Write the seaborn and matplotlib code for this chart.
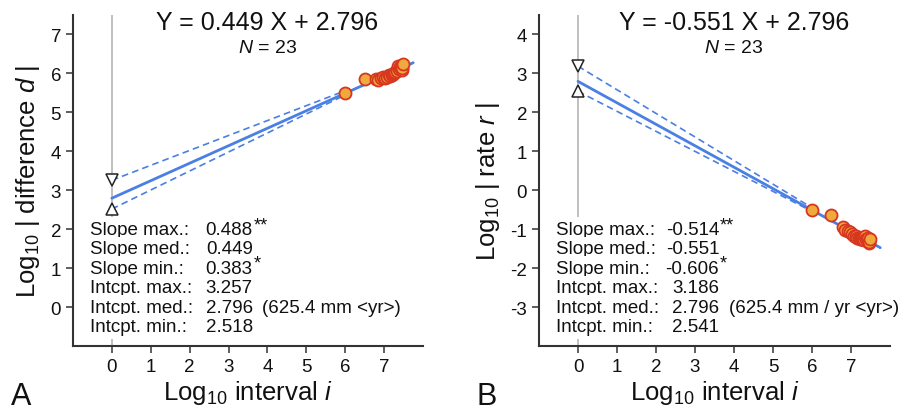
import numpy as np
import pandas as pd
import matplotlib
matplotlib.use("Agg")
import matplotlib.pyplot as plt
import seaborn as sns

# ---------------- data ----------------
log_interval = [5.99, 6.50, 6.80, 6.85, 6.93, 6.98, 7.02, 7.08, 7.12, 7.15, 7.20, 7.23,
                7.26, 7.29, 7.32, 7.34, 7.36, 7.38, 7.41, 7.43, 7.45, 7.47, 7.49]
log_difference = [5.49, 5.86, 5.85, 5.83, 5.89, 5.92, 5.89, 5.91, 5.95, 5.93, 5.97, 5.99,
                  6.02, 6.04, 6.10, 6.07, 6.19, 6.12, 6.16, 6.20, 6.10, 6.13, 6.23]
log_rate = [-0.50, -0.64, -0.95, -1.02, -1.04, -1.06, -1.13, -1.17, -1.17, -1.22, -1.23, -1.24,
            -1.24, -1.25, -1.22, -1.27, -1.17, -1.26, -1.25, -1.23, -1.35, -1.34, -1.26]

# fit statistics: [max, med, min]
slopes_A = [0.488, 0.449, 0.383]
intercepts_A = [3.257, 2.796, 2.518]
slopes_B = [-0.514, -0.551, -0.606]
intercepts_B = [3.186, 2.796, 2.541]
slope_stars = ["**", "", "*"]
n_points = 23
note_A = "(625.4 mm <yr>)"
note_B = "(625.4 mm / yr <yr>)"
stat_names = ["Slope max.:", "Slope med.:", "Slope min.:",
              "Intcpt. max.:", "Intcpt. med.:", "Intcpt. min.:"]

x_ticks = [0, 1, 2, 3, 4, 5, 6, 7]
y_ticks_A = [0, 1, 2, 3, 4, 5, 6, 7]
y_ticks_B = [-3, -2, -1, 0, 1, 2, 3, 4]

# ---------------- style ----------------
sns.set_style("ticks")
plt.rcParams["font.family"] = ["Liberation Sans", "DejaVu Sans"]
plt.rcParams["mathtext.fontset"] = "custom"
plt.rcParams["mathtext.rm"] = "Liberation Sans"
plt.rcParams["mathtext.it"] = "Liberation Sans:italic"
plt.rcParams["mathtext.bf"] = "Liberation Sans:bold"
plt.rcParams["axes.unicode_minus"] = False
plt.rcParams["text.color"] = "#111111"
plt.rcParams["axes.labelcolor"] = "#111111"

BLUE = "#4a7fe3"
FILL = "#f0a93c"
EDGE = "#d7361f"
SPINE = "#333333"

fig = plt.figure(figsize=(9.03, 4.14), dpi=100)
axA = fig.add_axes([0.0808, 0.1618, 0.3876, 0.7995])
axB = fig.add_axes([0.5969, 0.1618, 0.3887, 0.7995])


def panel(ax, yvals, slopes, intercepts, ylim, yticks, ylabel, note, text_top):
    ax.set_xlim(-1, 8)
    ax.set_ylim(*ylim)
    ax.axvline(0, color="#b5b5b5", lw=1.2, zorder=0)

    x_lo, x_hi = 0.0, 7.75
    xmin_data = min(log_interval)
    s_max, s_med, s_min = slopes
    i_max, i_med, i_min = intercepts
    line_df = pd.DataFrame({"x": [x_lo, x_hi],
                            "y": [i_med + s_med * x_lo, i_med + s_med * x_hi]})
    sns.lineplot(data=line_df, x="x", y="y", ax=ax, color=BLUE, lw=2.0, zorder=2)
    # dashed bounding lines
    ax.plot([x_lo, xmin_data], [i_max + s_min * x_lo, i_max + s_min * xmin_data],
            color=BLUE, lw=1.2, ls=(0, (4, 2.5)), zorder=2)
    ax.plot([x_lo, xmin_data], [i_min + s_max * x_lo, i_min + s_max * xmin_data],
            color=BLUE, lw=1.2, ls=(0, (4, 2.5)), zorder=2)
    ax.plot([0], [i_max], marker="v", ms=8, mfc="white", mec="#222222", mew=1.1,
            ls="none", zorder=3)
    ax.plot([0], [i_min], marker="^", ms=8, mfc="white", mec="#222222", mew=1.1,
            ls="none", zorder=3)

    df = pd.DataFrame({"x": log_interval, "y": yvals})
    sns.scatterplot(data=df, x="x", y="y", ax=ax, s=75, color=FILL,
                    edgecolor=EDGE, linewidth=1.3, zorder=4)

    # equation and N
    ax.text(4.0, ylim[1] - 0.17, f"Y = {s_med:.3f} X + {i_med:.3f}",
            ha="center", va="center", fontsize=18)
    ax.text(4.0, ylim[1] - 0.83, f"$N$ = {n_points}", ha="center", va="center",
            fontsize=14)

    # statistics block
    values = [f"{v:.3f}" for v in slopes] + [f"{v:.3f}" for v in intercepts]
    for k, (name, val) in enumerate(zip(stat_names, values)):
        yy = text_top - 0.5 * k
        ax.text(-0.57, yy, name, ha="left", va="center", fontsize=13.5, zorder=5,
                bbox=dict(facecolor="white", edgecolor="none", pad=2.5))
        ax.text(3.62, yy, val, ha="right", va="center", fontsize=13.5, zorder=5)
        if k < 3 and slope_stars[k]:
            ax.text(3.64, yy + 0.12, slope_stars[k], ha="left", va="center",
                    fontsize=13, zorder=5)
        if k == 4:
            ax.text(3.86, yy, note, ha="left", va="center", fontsize=13.5, zorder=5)

    ax.set_xticks(x_ticks)
    ax.set_yticks(yticks)
    ax.tick_params(axis="both", labelsize=13.5, length=5, width=1.1,
                   direction="out", colors=SPINE, labelcolor="#111111")
    for sp in ["top", "right"]:
        ax.spines[sp].set_visible(False)
    for sp in ["left", "bottom"]:
        ax.spines[sp].set_linewidth(1.5)
        ax.spines[sp].set_color(SPINE)
    ax.set_xlabel("Log$_{10}$ interval $i$", fontsize=18.5, labelpad=2)
    ax.set_ylabel(ylabel, fontsize=18.5, labelpad=6)


panel(axA, log_difference, slopes_A, intercepts_A, (-1, 7.5), y_ticks_A,
      "Log$_{10}$ | difference $d$ |", note_A, 2.0)
panel(axB, log_rate, slopes_B, intercepts_B, (-4, 4.5), y_ticks_B,
      "Log$_{10}$ | rate $r$ |", note_B, -1.0)

fig.text(0.012, 0.022, "A", fontsize=22, ha="left", va="baseline")
fig.text(0.528, 0.022, "B", fontsize=22, ha="left", va="baseline")

fig.savefig("out.png", dpi=100)
